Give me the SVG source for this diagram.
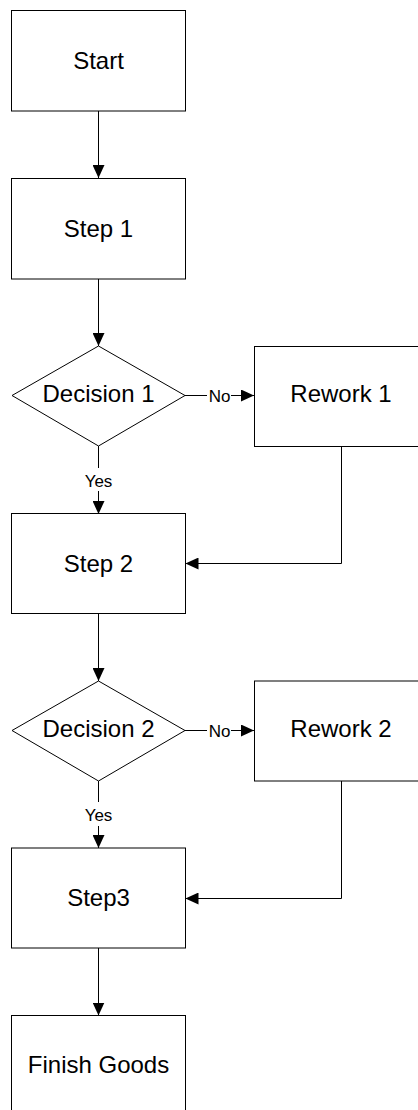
<svg xmlns="http://www.w3.org/2000/svg" width="418" height="1110" viewBox="0 0 418 1110">
  <style>
    .shape { fill: #ffffff; stroke: #000000; stroke-width: 1; }
    .label { font-family: "Liberation Sans", Arial, sans-serif; font-size: 24px; fill: #000000; text-anchor: middle; }
    .edge-label { font-family: "Liberation Sans", Arial, sans-serif; font-size: 17px; fill: #000000; text-anchor: middle; }
    .wire { fill: none; stroke: #000000; stroke-width: 1; }
  </style>
  <defs>
    <marker id="arrow" markerUnits="userSpaceOnUse" markerWidth="13" markerHeight="12" refX="13" refY="6" orient="auto">
      <path d="M0,0 L13,6 L0,12 Z" fill="#000000"/>
    </marker>
  </defs>

  <rect width="418" height="1110" fill="#ffffff"/>

  <!-- connectors -->
  <g id="connectors">
    <path class="wire" d="M98.5,111 V178" marker-end="url(#arrow)"/>
    <path class="wire" d="M98.5,279 V346" marker-end="url(#arrow)"/>
    <path class="wire" d="M185,395.5 H207"/>
    <path class="wire" d="M231,395.5 H254" marker-end="url(#arrow)"/>
    <text class="edge-label" x="219.5" y="401.5">No</text>
    <path class="wire" d="M98.5,446 V468"/>
    <path class="wire" d="M98.5,491 V514" marker-end="url(#arrow)"/>
    <text class="edge-label" x="98.5" y="486.5">Yes</text>
    <path class="wire" d="M341.5,446 V563.5 H185.5" marker-end="url(#arrow)"/>

    <path class="wire" d="M98.5,613 V681" marker-end="url(#arrow)"/>
    <path class="wire" d="M185,730.5 H207"/>
    <path class="wire" d="M231,730.5 H254" marker-end="url(#arrow)"/>
    <text class="edge-label" x="219.5" y="736.5">No</text>
    <path class="wire" d="M98.5,781 V802"/>
    <path class="wire" d="M98.5,826 V848" marker-end="url(#arrow)"/>
    <text class="edge-label" x="98.5" y="821">Yes</text>
    <path class="wire" d="M341.5,781 V898.5 H185.5" marker-end="url(#arrow)"/>

    <path class="wire" d="M98.5,948 V1015.5" marker-end="url(#arrow)"/>
  </g>

  <g id="start">
    <rect class="shape" x="11.5" y="10.5" width="174" height="100.5"/>
    <text class="label" x="98.5" y="68.5">Start</text>
  </g>

  <g id="step1">
    <rect class="shape" x="11.5" y="178.5" width="174" height="100.5"/>
    <text class="label" x="98.5" y="236.5">Step 1</text>
  </g>

  <g id="decision1">
    <polygon class="shape" points="12,395.5 98.5,346 185,395.5 98.5,446"/>
    <text class="label" x="98.5" y="402">Decision 1</text>
  </g>

  <g id="rework1">
    <rect class="shape" x="254.5" y="346.5" width="174" height="100"/>
    <text class="label" x="341" y="402">Rework 1</text>
  </g>

  <g id="step2">
    <rect class="shape" x="11.5" y="513.5" width="174" height="100"/>
    <text class="label" x="98.5" y="571.5">Step 2</text>
  </g>

  <g id="decision2">
    <polygon class="shape" points="12,730.5 98.5,681 185,730.5 98.5,781"/>
    <text class="label" x="98.5" y="737">Decision 2</text>
  </g>

  <g id="rework2">
    <rect class="shape" x="254.5" y="681" width="174" height="100"/>
    <text class="label" x="341" y="737">Rework 2</text>
  </g>

  <g id="step3">
    <rect class="shape" x="11.5" y="848" width="174" height="100"/>
    <text class="label" x="98.5" y="906">Step3</text>
  </g>

  <g id="finish-goods">
    <rect class="shape" x="11.5" y="1015.5" width="174" height="100"/>
    <text class="label" x="98.5" y="1073">Finish Goods</text>
  </g>
</svg>
